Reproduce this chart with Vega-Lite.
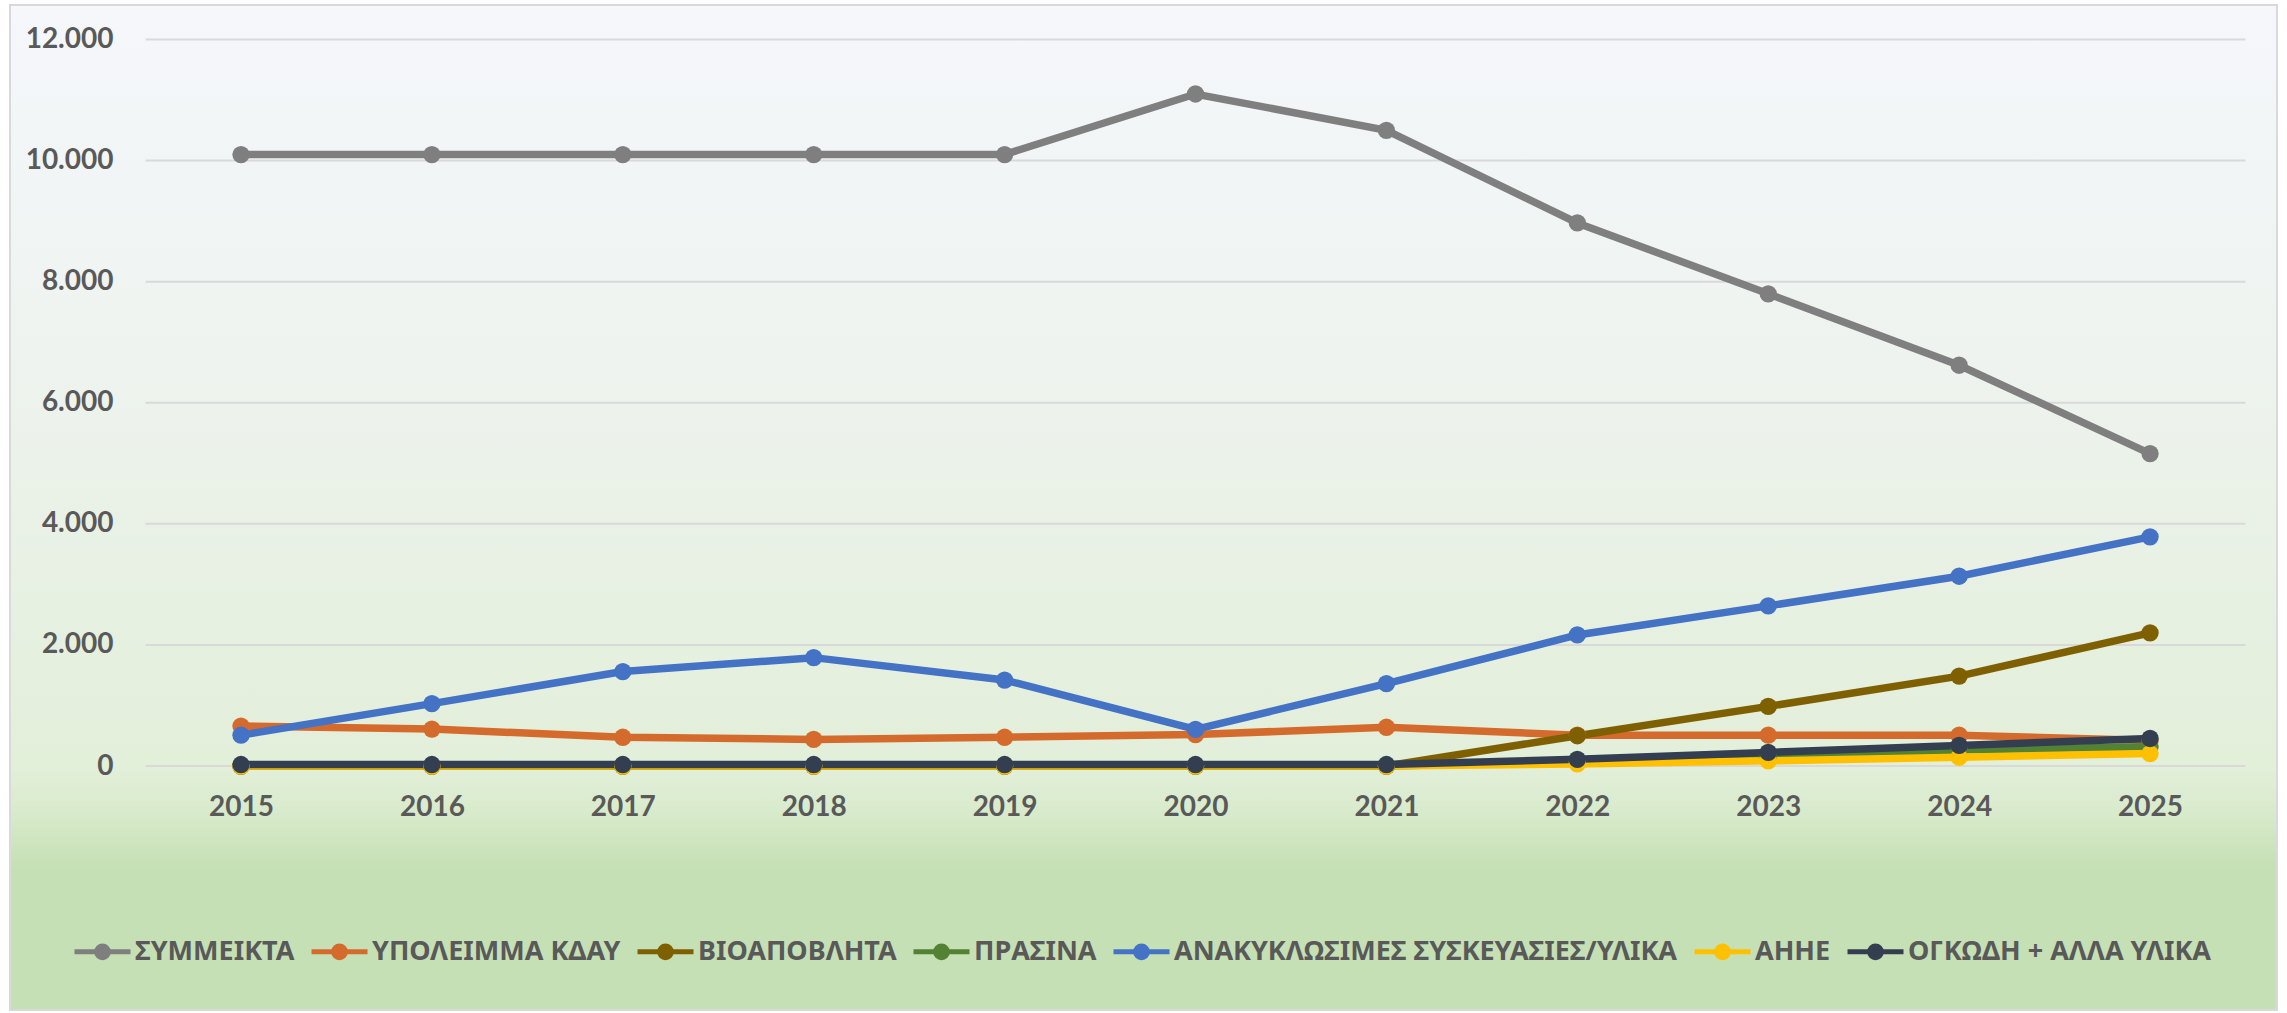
{
  "$schema": "https://vega.github.io/schema/vega-lite/v6.json",
  "width": 2267,
  "height": 1005,
  "autosize": {"type": "none"},
  "padding": {"left": 10, "top": 5, "right": 10, "bottom": 3},
  "background": "#ffffff",
  "config": {
    "locale": {"number": {"decimal": ",", "thousands": ".", "grouping": [3], "currency": ["", " €"]}},
    "view": {
      "fill": {
        "gradient": "linear", "x1": 0, "y1": 0, "x2": 0, "y2": 1,
        "stops": [
          {"offset": 0, "color": "#f5f7fb"},
          {"offset": 0.35, "color": "#eef3ef"},
          {"offset": 0.76, "color": "#e2efd9"},
          {"offset": 0.8, "color": "#d9ebcd"},
          {"offset": 0.86, "color": "#c5e0b4"},
          {"offset": 1, "color": "#c5e0b4"}
        ]
      },
      "stroke": "#d9d9d9",
      "strokeWidth": 2
    },
    "axisX": {
      "values": [2015, 2016, 2017, 2018, 2019, 2020, 2021, 2022, 2023, 2024, 2025],
      "format": "d", "title": null, "grid": false, "domain": false, "ticks": false,
      "labelPadding": 0, "labelBaseline": "middle", "offset": -203, "labelFlush": false,
      "labelFont": "Lato", "labelFontSize": 28, "labelFontWeight": "bold", "labelColor": "#595959"
    },
    "axisY": {
      "values": [0, 2000, 4000, 6000, 8000, 10000, 12000],
      "format": ",.0f", "title": null, "grid": false, "domain": false, "ticks": false,
      "labelPadding": 0, "offset": -103,
      "labelFont": "Lato", "labelFontSize": 28, "labelFontWeight": "bold", "labelColor": "#595959"
    }
  },
  "layer": [
    {
      "data": {"values": [{"tick": 0}, {"tick": 2000}, {"tick": 4000}, {"tick": 6000}, {"tick": 8000}, {"tick": 10000}, {"tick": 12000}]},
      "mark": {"type": "rule", "color": "#d9d9d9", "strokeWidth": 2},
      "encoding": {
        "y": {"field": "tick", "type": "quantitative", "scale": {"domain": [-4030, 12570], "nice": false, "zero": false},
          "axis": {"values": [0, 2000, 4000, 6000, 8000, 10000, 12000], "format": ",.0f", "title": null, "offset": -103}},
        "x": {"datum": 2014.5, "type": "quantitative", "scale": {"domain": [2013.79, 2025.665], "nice": false, "zero": false},
          "axis": {"values": [2015, 2016, 2017, 2018, 2019, 2020, 2021, 2022, 2023, 2024, 2025], "format": "d", "title": null, "offset": -203}},
        "x2": {"datum": 2025.5}
      }
    },
    {
      "data": {"values": [
        {"series": "ΣΥΜΜΕΙΚΤΑ", "year": 2015, "value": 10100},
        {"series": "ΣΥΜΜΕΙΚΤΑ", "year": 2016, "value": 10100},
        {"series": "ΣΥΜΜΕΙΚΤΑ", "year": 2017, "value": 10100},
        {"series": "ΣΥΜΜΕΙΚΤΑ", "year": 2018, "value": 10100},
        {"series": "ΣΥΜΜΕΙΚΤΑ", "year": 2019, "value": 10100},
        {"series": "ΣΥΜΜΕΙΚΤΑ", "year": 2020, "value": 11100},
        {"series": "ΣΥΜΜΕΙΚΤΑ", "year": 2021, "value": 10500},
        {"series": "ΣΥΜΜΕΙΚΤΑ", "year": 2022, "value": 8970},
        {"series": "ΣΥΜΜΕΙΚΤΑ", "year": 2023, "value": 7800},
        {"series": "ΣΥΜΜΕΙΚΤΑ", "year": 2024, "value": 6620},
        {"series": "ΣΥΜΜΕΙΚΤΑ", "year": 2025, "value": 5160},
        {"series": "ΥΠΟΛΕΙΜΜΑ ΚΔΑΥ", "year": 2015, "value": 660},
        {"series": "ΥΠΟΛΕΙΜΜΑ ΚΔΑΥ", "year": 2016, "value": 610},
        {"series": "ΥΠΟΛΕΙΜΜΑ ΚΔΑΥ", "year": 2017, "value": 475},
        {"series": "ΥΠΟΛΕΙΜΜΑ ΚΔΑΥ", "year": 2018, "value": 440},
        {"series": "ΥΠΟΛΕΙΜΜΑ ΚΔΑΥ", "year": 2019, "value": 475},
        {"series": "ΥΠΟΛΕΙΜΜΑ ΚΔΑΥ", "year": 2020, "value": 520},
        {"series": "ΥΠΟΛΕΙΜΜΑ ΚΔΑΥ", "year": 2021, "value": 640},
        {"series": "ΥΠΟΛΕΙΜΜΑ ΚΔΑΥ", "year": 2022, "value": 510},
        {"series": "ΥΠΟΛΕΙΜΜΑ ΚΔΑΥ", "year": 2023, "value": 510},
        {"series": "ΥΠΟΛΕΙΜΜΑ ΚΔΑΥ", "year": 2024, "value": 510},
        {"series": "ΥΠΟΛΕΙΜΜΑ ΚΔΑΥ", "year": 2025, "value": 420},
        {"series": "ΒΙΟΑΠΟΒΛΗΤΑ", "year": 2015, "value": 0},
        {"series": "ΒΙΟΑΠΟΒΛΗΤΑ", "year": 2016, "value": 0},
        {"series": "ΒΙΟΑΠΟΒΛΗΤΑ", "year": 2017, "value": 0},
        {"series": "ΒΙΟΑΠΟΒΛΗΤΑ", "year": 2018, "value": 0},
        {"series": "ΒΙΟΑΠΟΒΛΗΤΑ", "year": 2019, "value": 0},
        {"series": "ΒΙΟΑΠΟΒΛΗΤΑ", "year": 2020, "value": 0},
        {"series": "ΒΙΟΑΠΟΒΛΗΤΑ", "year": 2021, "value": 0},
        {"series": "ΒΙΟΑΠΟΒΛΗΤΑ", "year": 2022, "value": 500},
        {"series": "ΒΙΟΑΠΟΒΛΗΤΑ", "year": 2023, "value": 985},
        {"series": "ΒΙΟΑΠΟΒΛΗΤΑ", "year": 2024, "value": 1485},
        {"series": "ΒΙΟΑΠΟΒΛΗΤΑ", "year": 2025, "value": 2200},
        {"series": "ΠΡΑΣΙΝΑ", "year": 2015, "value": 0},
        {"series": "ΠΡΑΣΙΝΑ", "year": 2016, "value": 0},
        {"series": "ΠΡΑΣΙΝΑ", "year": 2017, "value": 0},
        {"series": "ΠΡΑΣΙΝΑ", "year": 2018, "value": 0},
        {"series": "ΠΡΑΣΙΝΑ", "year": 2019, "value": 0},
        {"series": "ΠΡΑΣΙΝΑ", "year": 2020, "value": 0},
        {"series": "ΠΡΑΣΙΝΑ", "year": 2021, "value": 0},
        {"series": "ΠΡΑΣΙΝΑ", "year": 2022, "value": 70},
        {"series": "ΠΡΑΣΙΝΑ", "year": 2023, "value": 160},
        {"series": "ΠΡΑΣΙΝΑ", "year": 2024, "value": 265},
        {"series": "ΠΡΑΣΙΝΑ", "year": 2025, "value": 320},
        {"series": "ΑΝΑΚΥΚΛΩΣΙΜΕΣ ΣΥΣΚΕΥΑΣΙΕΣ/ΥΛΙΚΑ", "year": 2015, "value": 510},
        {"series": "ΑΝΑΚΥΚΛΩΣΙΜΕΣ ΣΥΣΚΕΥΑΣΙΕΣ/ΥΛΙΚΑ", "year": 2016, "value": 1030},
        {"series": "ΑΝΑΚΥΚΛΩΣΙΜΕΣ ΣΥΣΚΕΥΑΣΙΕΣ/ΥΛΙΚΑ", "year": 2017, "value": 1560},
        {"series": "ΑΝΑΚΥΚΛΩΣΙΜΕΣ ΣΥΣΚΕΥΑΣΙΕΣ/ΥΛΙΚΑ", "year": 2018, "value": 1790},
        {"series": "ΑΝΑΚΥΚΛΩΣΙΜΕΣ ΣΥΣΚΕΥΑΣΙΕΣ/ΥΛΙΚΑ", "year": 2019, "value": 1420},
        {"series": "ΑΝΑΚΥΚΛΩΣΙΜΕΣ ΣΥΣΚΕΥΑΣΙΕΣ/ΥΛΙΚΑ", "year": 2020, "value": 606},
        {"series": "ΑΝΑΚΥΚΛΩΣΙΜΕΣ ΣΥΣΚΕΥΑΣΙΕΣ/ΥΛΙΚΑ", "year": 2021, "value": 1360},
        {"series": "ΑΝΑΚΥΚΛΩΣΙΜΕΣ ΣΥΣΚΕΥΑΣΙΕΣ/ΥΛΙΚΑ", "year": 2022, "value": 2165},
        {"series": "ΑΝΑΚΥΚΛΩΣΙΜΕΣ ΣΥΣΚΕΥΑΣΙΕΣ/ΥΛΙΚΑ", "year": 2023, "value": 2645},
        {"series": "ΑΝΑΚΥΚΛΩΣΙΜΕΣ ΣΥΣΚΕΥΑΣΙΕΣ/ΥΛΙΚΑ", "year": 2024, "value": 3135},
        {"series": "ΑΝΑΚΥΚΛΩΣΙΜΕΣ ΣΥΣΚΕΥΑΣΙΕΣ/ΥΛΙΚΑ", "year": 2025, "value": 3785},
        {"series": "ΑΗΗΕ", "year": 2015, "value": 0},
        {"series": "ΑΗΗΕ", "year": 2016, "value": 0},
        {"series": "ΑΗΗΕ", "year": 2017, "value": 0},
        {"series": "ΑΗΗΕ", "year": 2018, "value": 0},
        {"series": "ΑΗΗΕ", "year": 2019, "value": 0},
        {"series": "ΑΗΗΕ", "year": 2020, "value": 0},
        {"series": "ΑΗΗΕ", "year": 2021, "value": 0},
        {"series": "ΑΗΗΕ", "year": 2022, "value": 35},
        {"series": "ΑΗΗΕ", "year": 2023, "value": 85},
        {"series": "ΑΗΗΕ", "year": 2024, "value": 145},
        {"series": "ΑΗΗΕ", "year": 2025, "value": 205},
        {"series": "ΟΓΚΩΔΗ + ΑΛΛΑ ΥΛΙΚΑ", "year": 2015, "value": 25},
        {"series": "ΟΓΚΩΔΗ + ΑΛΛΑ ΥΛΙΚΑ", "year": 2016, "value": 25},
        {"series": "ΟΓΚΩΔΗ + ΑΛΛΑ ΥΛΙΚΑ", "year": 2017, "value": 25},
        {"series": "ΟΓΚΩΔΗ + ΑΛΛΑ ΥΛΙΚΑ", "year": 2018, "value": 25},
        {"series": "ΟΓΚΩΔΗ + ΑΛΛΑ ΥΛΙΚΑ", "year": 2019, "value": 25},
        {"series": "ΟΓΚΩΔΗ + ΑΛΛΑ ΥΛΙΚΑ", "year": 2020, "value": 25},
        {"series": "ΟΓΚΩΔΗ + ΑΛΛΑ ΥΛΙΚΑ", "year": 2021, "value": 25},
        {"series": "ΟΓΚΩΔΗ + ΑΛΛΑ ΥΛΙΚΑ", "year": 2022, "value": 110},
        {"series": "ΟΓΚΩΔΗ + ΑΛΛΑ ΥΛΙΚΑ", "year": 2023, "value": 225},
        {"series": "ΟΓΚΩΔΗ + ΑΛΛΑ ΥΛΙΚΑ", "year": 2024, "value": 340},
        {"series": "ΟΓΚΩΔΗ + ΑΛΛΑ ΥΛΙΚΑ", "year": 2025, "value": 455}
      ]},
      "mark": {"type": "line", "strokeWidth": 7.5, "point": {"filled": true, "size": 300, "opacity": 1}},
      "encoding": {
        "x": {
          "field": "year", "type": "quantitative",
          "scale": {"domain": [2013.79, 2025.665], "nice": false, "zero": false},
          "axis": {"values": [2015, 2016, 2017, 2018, 2019, 2020, 2021, 2022, 2023, 2024, 2025], "format": "d", "title": null, "offset": -203}
        },
        "y": {
          "field": "value", "type": "quantitative",
          "scale": {"domain": [-4030, 12570], "nice": false, "zero": false},
          "axis": {"values": [0, 2000, 4000, 6000, 8000, 10000, 12000], "format": ",.0f", "title": null, "offset": -103}
        },
        "color": {
          "field": "series", "type": "nominal",
          "scale": {
            "domain": ["ΣΥΜΜΕΙΚΤΑ", "ΥΠΟΛΕΙΜΜΑ ΚΔΑΥ", "ΒΙΟΑΠΟΒΛΗΤΑ", "ΠΡΑΣΙΝΑ", "ΑΝΑΚΥΚΛΩΣΙΜΕΣ ΣΥΣΚΕΥΑΣΙΕΣ/ΥΛΙΚΑ", "ΑΗΗΕ", "ΟΓΚΩΔΗ + ΑΛΛΑ ΥΛΙΚΑ"],
            "range": ["#7f7f7f", "#d46b2c", "#7f6000", "#548235", "#4472c4", "#ffc000", "#333f50"]
          },
          "legend": {
            "orient": "none", "legendX": 62, "legendY": 916, "direction": "horizontal", "title": null,
            "symbolType": "M-1,0H1M0.21,0A0.21,0.21,0,1,1,-0.21,0A0.21,0.21,0,1,1,0.21,0Z",
            "symbolSize": 3136, "symbolStrokeWidth": 5,
            "labelFont": "Noto Sans", "labelFontSize": 27, "labelFontWeight": "bold", "labelColor": "#595959",
            "labelLimit": 1000, "columnPadding": 6, "labelOffset": 2, "padding": 0,
            "encode": {"symbols": {"update": {"fill": {"scale": "color", "field": "value"}, "fillOpacity": {"value": 1}}}}
          }
        }
      }
    }
  ]
}
